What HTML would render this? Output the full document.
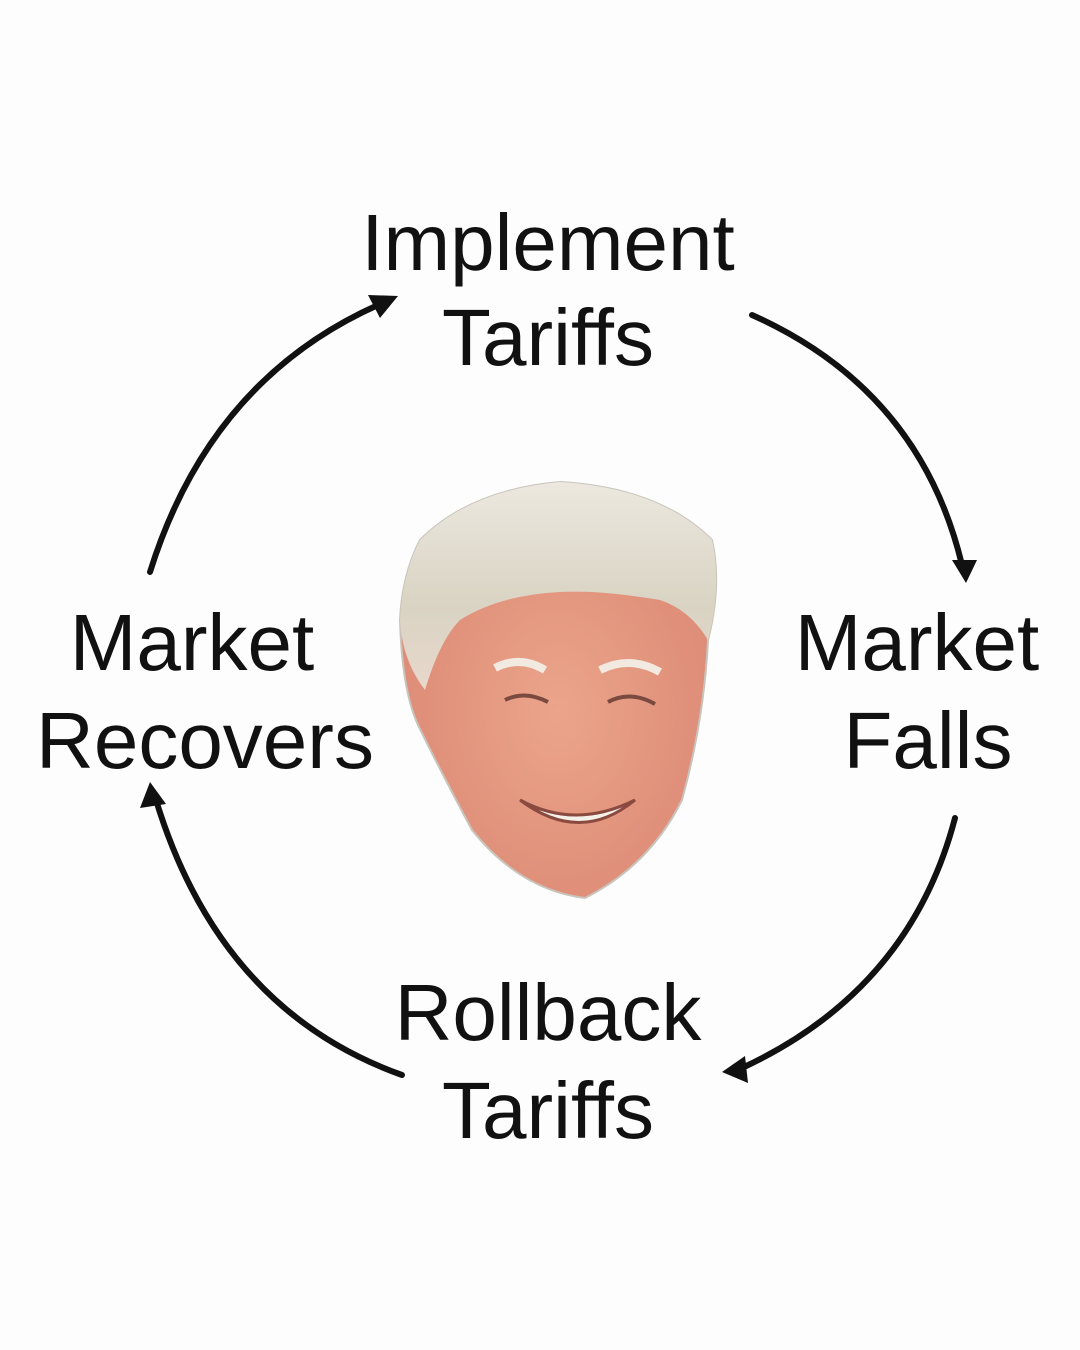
<!DOCTYPE html>
<html><head><meta charset="utf-8"><style>
html,body{margin:0;padding:0;background:#fdfdfd;}
svg{display:block}
text{font-family:"Liberation Sans",Arial,sans-serif;font-size:80px;fill:#111;}
</style></head><body>
<svg width="1080" height="1350" viewBox="0 0 1080 1350">
<defs>
<radialGradient id="skin" cx="0.5" cy="0.55" r="0.6">
<stop offset="0" stop-color="#eba58a"/><stop offset="0.7" stop-color="#e0907a"/><stop offset="1" stop-color="#d98a78"/>
</radialGradient>
<linearGradient id="hair" x1="0" y1="0" x2="0" y2="1">
<stop offset="0" stop-color="#ece8df"/><stop offset="0.6" stop-color="#d9d3c3"/><stop offset="1" stop-color="#e8d8cc"/>
</linearGradient>
</defs>
<rect width="1080" height="1350" fill="#fdfdfd"/>
<g fill="none" stroke="#111" stroke-width="6" stroke-linecap="round">
<path d="M150 572 Q210 380 378 305"/>
<path d="M752 315 Q920 390 962 565"/>
<path d="M955 818 Q910 990 742 1068"/>
<path d="M402 1075 Q220 1010 156 800"/>
</g>
<g fill="#111">
<polygon points="398,296 368,295 380,318"/>
<polygon points="966,583 952,560 977,560"/>
<polygon points="722,1072 745,1056 748,1083"/>
<polygon points="150,782 140,808 166,804"/>
</g>
<path d="M420 540 Q470 490 560 482 Q660 488 712 540 Q722 585 708 640 Q704 720 682 800 Q650 865 585 898 Q520 890 472 830 Q440 770 418 725 Q402 690 400 620 Q402 575 420 540Z" fill="url(#skin)" stroke="#c9c4bb" stroke-width="2"/>
<path d="M420 540 Q470 490 560 482 Q660 488 712 540 Q722 585 708 640 Q690 610 660 600 Q600 590 560 592 Q500 595 460 620 Q440 640 425 690 Q402 660 400 620 Q402 575 420 540Z" fill="url(#hair)"/>
<path d="M495 668 Q520 655 545 670" stroke="#f2e9e0" stroke-width="8" fill="none"/>
<path d="M600 670 Q630 655 660 672" stroke="#f2e9e0" stroke-width="8" fill="none"/>
<path d="M505 700 Q525 690 548 702" stroke="#7a4a40" stroke-width="4" fill="none"/>
<path d="M608 702 Q630 690 655 704" stroke="#7a4a40" stroke-width="4" fill="none"/>
<path d="M520 800 Q575 830 635 800 Q580 845 520 800Z" fill="#f4f0ea" stroke="#8a4a40" stroke-width="3"/>
<text x="548" y="270" text-anchor="middle">Implement</text>
<text x="548" y="365" text-anchor="middle">Tariffs</text>
<text x="192" y="670" text-anchor="middle">Market</text>
<text x="205" y="768" text-anchor="middle">Recovers</text>
<text x="917" y="670" text-anchor="middle">Market</text>
<text x="928" y="768" text-anchor="middle">Falls</text>
<text x="548" y="1040" text-anchor="middle">Rollback</text>
<text x="548" y="1138" text-anchor="middle">Tariffs</text>
</svg>
</body></html>
